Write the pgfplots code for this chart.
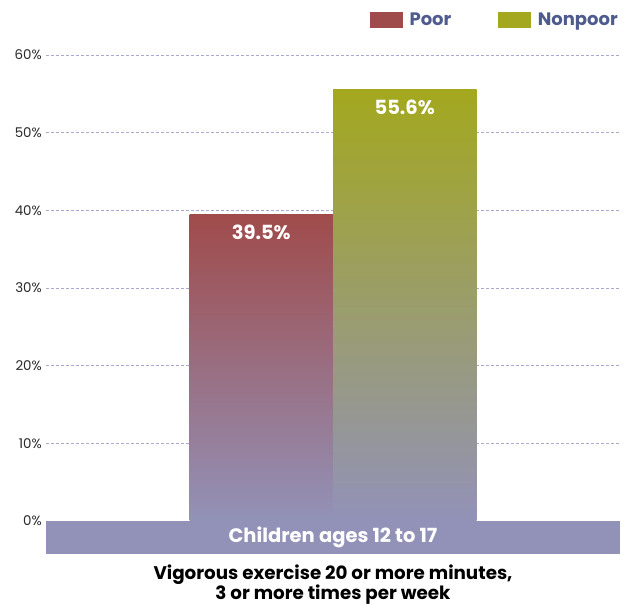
\documentclass[border=0pt]{standalone}
\usepackage{pgfplots}
\pgfplotsset{compat=1.18}
\usepackage{fontspec}
\setmainfont{Poppins}
\definecolor{poor}{HTML}{A04B4B}
\definecolor{nonpoor}{HTML}{A3A81E}
\definecolor{lav}{HTML}{9292B8}
\definecolor{legtxt}{HTML}{4F5B8E}
\definecolor{gridc}{HTML}{A8A8D0}
\definecolor{ticktxt}{HTML}{2A2A2A}

\begin{document}
\begin{tikzpicture}
\begin{axis}[
  set layers,
  scale only axis, width=574pt, height=499pt,
  xmin=0, xmax=4, ymin=-4.25, ymax=60,
  axis line style={draw=none}, tick style={draw=none},
  /pgf/number format/assume math mode=true,
  ytick={10,20,...,60}, extra y ticks={0},
  extra y tick style={grid=none},
  yticklabel={\pgfmathprintnumber{\tick}\%},
  yticklabel style={font=\fontsize{13.4}{15}\selectfont, text=ticktxt,
                    anchor=east, inner sep=0pt, xshift=-4pt},
  ymajorgrids, grid style={gridc, dash pattern=on 3pt off 2pt, line width=0.8pt},
  xtick={2}, xticklabels={Children ages 12 to 17},
  xticklabel style={font=\bfseries\fontsize{19.5}{22}\selectfont, text=white,
                    anchor=center, yshift=16.5pt},
  xlabel={Vigorous exercise 20 or more minutes,\\3 or more times per week},
  xlabel style={font=\bfseries\fontsize{18.3}{20}\selectfont, align=center,
                at={(rel axis cs:0.5,0)}, anchor=north, yshift=-7pt},
  legend columns=2,
  legend style={draw=none, fill=none, at={(rel axis cs:1,1)}, anchor=south east,
                xshift=-2pt, yshift=27pt, inner sep=0pt,
                font=\bfseries\fontsize{18}{20}\selectfont, text=legtxt,
                nodes={inner sep=0pt},
                /tikz/every odd column/.append style={column sep=7pt},
                /tikz/every even column/.append style={column sep=47pt}},
  nodes near coords={\pgfmathprintnumber[fixed,fixed zerofill,precision=1]{\pgfplotspointmeta}\%},
  every node near coord/.append style={font=\bfseries\fontsize{19.5}{22}\selectfont,
                                        text=white, anchor=center, yshift=-18pt},
]
\begin{pgfonlayer}{axis background}
\fill[lav] (axis cs:0,-4.25) rectangle (axis cs:4,0);
\end{pgfonlayer}
\addplot[ybar, bar width=1, bar shift=0pt, draw=none, top color=poor, bottom color=lav,
         forget plot] coordinates {(1.5,39.5)};
\addplot[ybar, bar width=1, bar shift=0pt, draw=none, top color=nonpoor, bottom color=lav,
         forget plot] coordinates {(2.5,55.6)};
\addlegendimage{legend image code/.code={\fill[poor] (0pt,-7.5pt) rectangle (32pt,7.5pt);}}
\addlegendentry{Poor}
\addlegendimage{legend image code/.code={\fill[nonpoor] (0pt,-7.5pt) rectangle (32pt,7.5pt);}}
\addlegendentry{Nonpoor}
\end{axis}
\pgfresetboundingbox
\useasboundingbox ([shift={(-46pt,-51pt)}]current axis.south west)
  rectangle ([shift={(7pt,55pt)}]current axis.north east);
\end{tikzpicture}
\end{document}
